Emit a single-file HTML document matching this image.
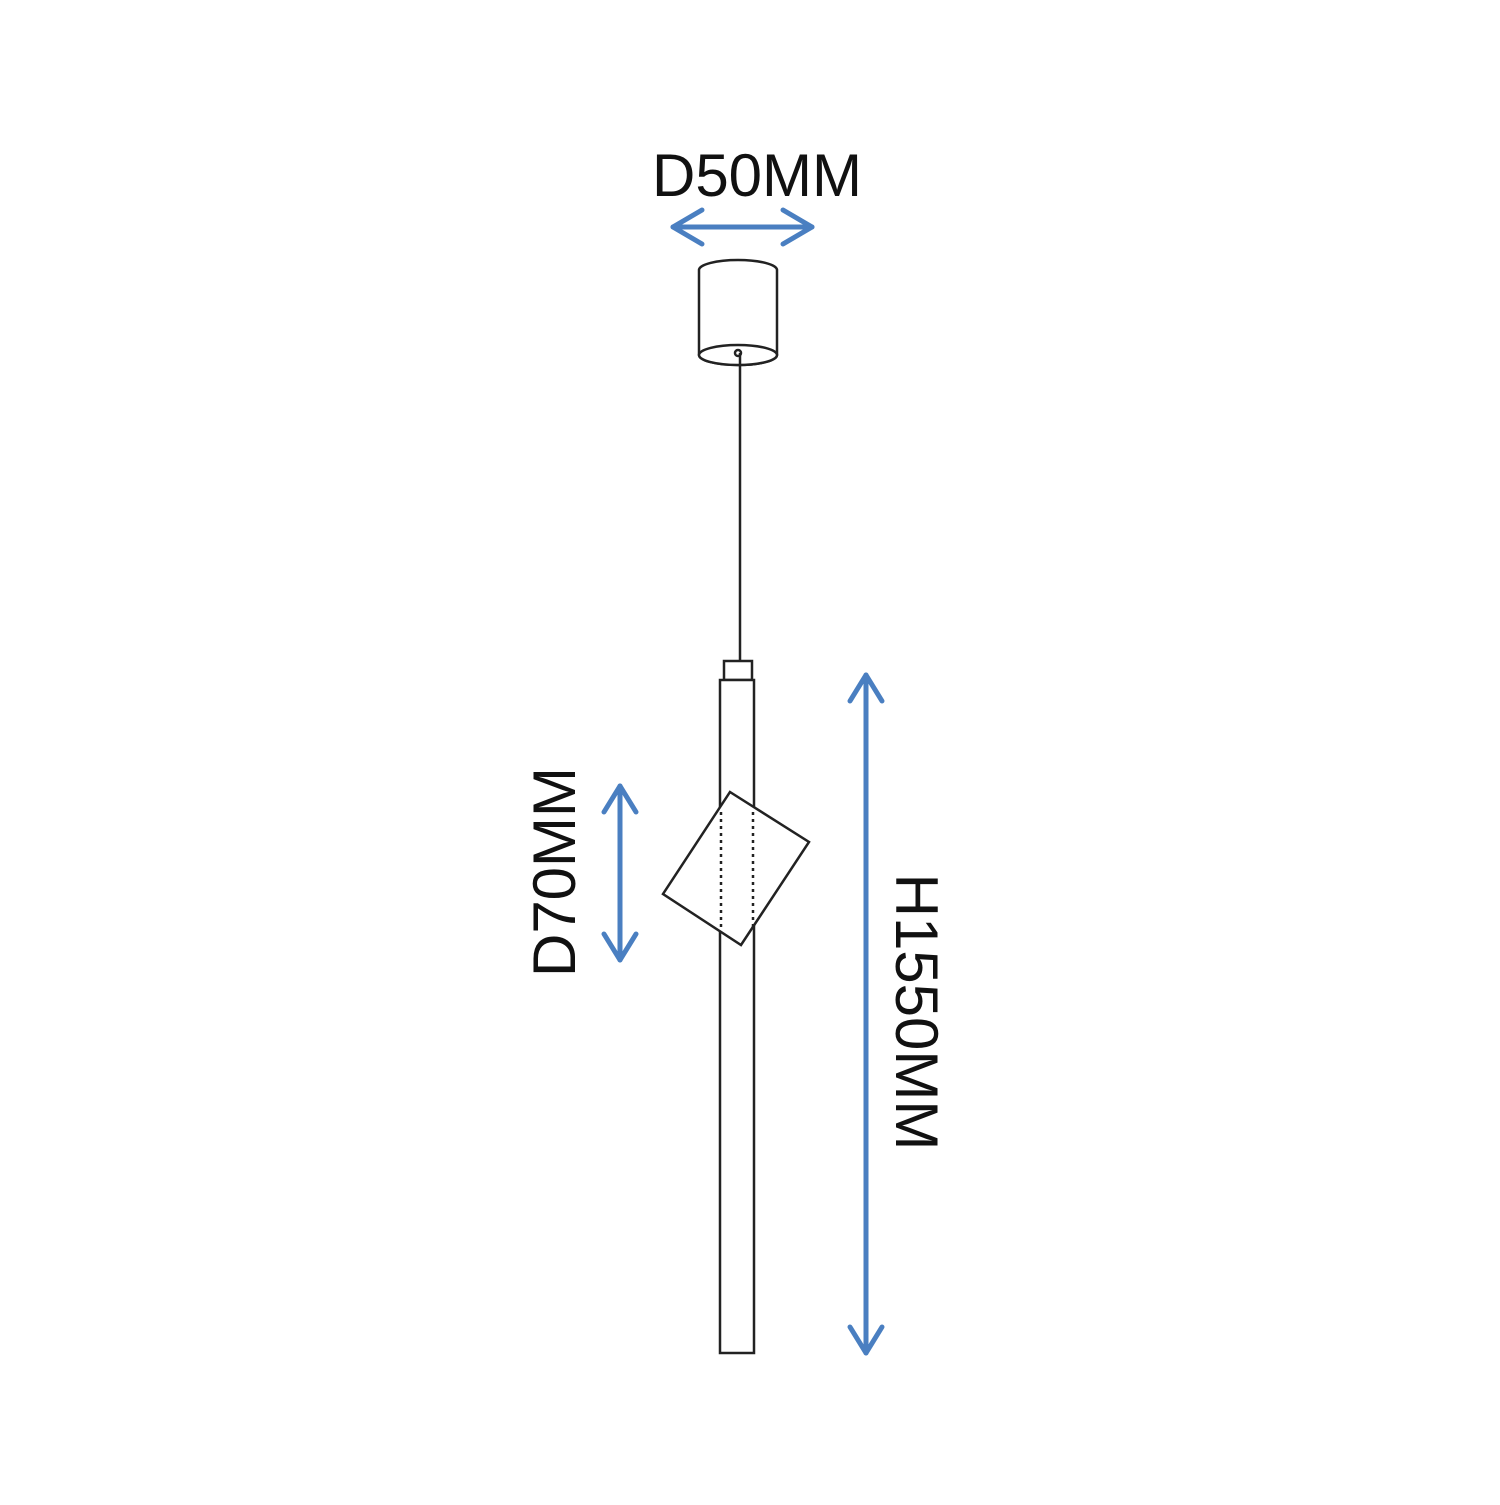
<!DOCTYPE html>
<html><head><meta charset="utf-8"><style>html,body{margin:0;padding:0;background:#fff}</style></head>
<body>
<svg width="1500" height="1500" viewBox="0 0 1500 1500" xmlns="http://www.w3.org/2000/svg">
<rect width="1500" height="1500" fill="#fff"/>
<g font-family="Liberation Sans, sans-serif" font-size="60" fill="#111">
<text x="757" y="196" text-anchor="middle">D50MM</text>
<text transform="translate(575,872) rotate(-90)" text-anchor="middle">D70MM</text>
<text transform="translate(896,1012) rotate(90)" text-anchor="middle">H1550MM</text>
</g>
<g stroke="#4a7fc1" stroke-width="5" fill="none" stroke-linecap="round" stroke-linejoin="round">
<line x1="673" y1="227" x2="812" y2="227"/>
<polyline points="702,210 673,227 702,244"/>
<polyline points="783,210 812,227 783,244"/>
<line x1="620" y1="786" x2="620" y2="960"/>
<polyline points="604,812 620,786 636,812"/>
<polyline points="604,934 620,960 636,934"/>
<line x1="866" y1="675" x2="866" y2="1353"/>
<polyline points="850,701 866,675 882,701"/>
<polyline points="850,1327 866,1353 882,1327"/>
</g>
<g stroke="#222" stroke-width="2.5" fill="#fff">
<path d="M699,270 A39,10 0 0 1 777,270 L777,355 A39,10 0 0 1 699,355 Z"/>
<ellipse cx="738" cy="355" rx="39" ry="10"/>
<circle cx="738" cy="353" r="3"/>
<line x1="740" y1="353" x2="740" y2="661"/>
<rect x="724" y="661" width="28" height="19"/>
<rect x="720" y="680" width="34" height="673"/>
<polygon points="730,792 809,842 741,945 663,894" fill="#fff"/>
</g>
<g stroke="#222" stroke-width="2.5" stroke-dasharray="3,4">
<line x1="721" y1="812" x2="721" y2="928"/>
<line x1="753" y1="812" x2="753" y2="928"/>
</g>
</svg>
</body></html>
